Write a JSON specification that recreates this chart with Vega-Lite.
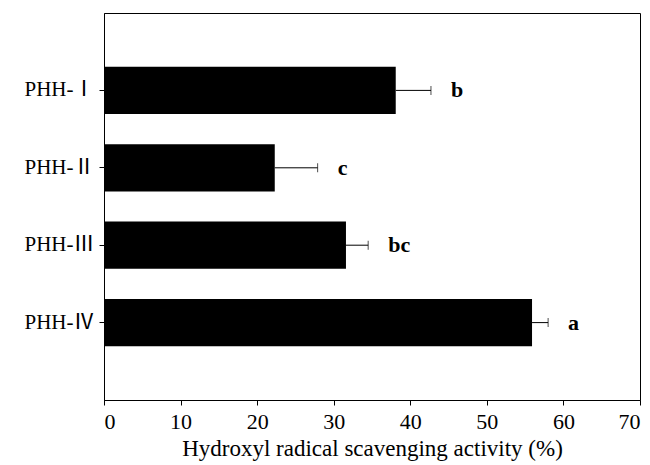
{
  "$schema": "https://vega.github.io/schema/vega-lite/v6.json",
  "autosize": "none",
  "width": 536,
  "height": 387,
  "padding": {"left": 104, "top": 13, "right": 10, "bottom": 65},
  "background": "white",
  "config": {
    "view": {"stroke": "black", "strokeWidth": 1},
    "font": "Liberation Serif",
    "axis": {
      "domainColor": "black",
      "tickColor": "black",
      "labelColor": "black",
      "titleColor": "black",
      "grid": false
    }
  },
  "data": {
    "values": [
      {"group": "PHH-Ⅰ", "value": 38.1, "upper": 42.7, "letter": "b"},
      {"group": "PHH-Ⅱ", "value": 22.3, "upper": 27.9, "letter": "c"},
      {"group": "PHH-Ⅲ", "value": 31.6, "upper": 34.5, "letter": "bc"},
      {"group": "PHH-Ⅳ", "value": 55.9, "upper": 58.0, "letter": "a"}
    ]
  },
  "encoding": {
    "y": {
      "field": "group",
      "type": "nominal",
      "sort": null,
      "scale": {"paddingInner": 0.39, "paddingOuter": 0.695},
      "axis": {
        "title": null,
        "tickSize": 5,
        "labelFont": "Liberation Serif, 'Noto Sans CJK SC', serif",
        "labelFontSize": 21,
        "labelPadding": 5
      }
    }
  },
  "layer": [
    {
      "mark": {"type": "bar", "color": "black"},
      "encoding": {
        "x": {
          "field": "value",
          "type": "quantitative",
          "scale": {"domain": [0, 70], "nice": false},
          "axis": {
            "title": "Hydroxyl radical scavenging activity (%)",
            "values": [0, 10, 20, 30, 40, 50, 60, 70],
            "tickSize": 5,
            "labelFont": "Liberation Serif",
            "labelFontSize": 22,
            "labelPadding": 6,
            "titleFont": "Liberation Serif",
            "titleFontSize": 23,
            "titleFontWeight": "normal",
            "titlePadding": 5
          }
        }
      }
    },
    {
      "mark": {"type": "rule", "color": "black", "strokeWidth": 1},
      "encoding": {
        "x": {"field": "value", "type": "quantitative"},
        "x2": {"field": "upper"}
      }
    },
    {
      "mark": {"type": "tick", "color": "black", "orient": "vertical", "size": 9, "thickness": 1},
      "encoding": {
        "x": {"field": "upper", "type": "quantitative"}
      }
    },
    {
      "mark": {"type": "text", "align": "left", "baseline": "middle", "dx": 20, "font": "Liberation Serif", "fontSize": 22, "fontWeight": "bold", "color": "black"},
      "encoding": {
        "x": {"field": "upper", "type": "quantitative"},
        "text": {"field": "letter"}
      }
    }
  ]
}
